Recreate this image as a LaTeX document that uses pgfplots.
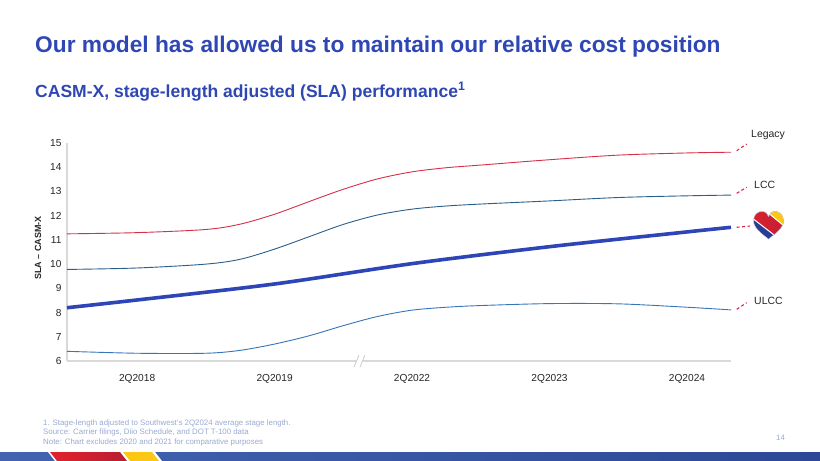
\documentclass[border=0pt]{standalone}
\usepackage{fontspec}
\setmainfont{Liberation Sans}
\usepackage{pgfplots}
\pgfplotsset{compat=1.18}
\definecolor{titleblue}{RGB}{47,71,181}
\definecolor{legacyc}{RGB}{214,48,72}
\definecolor{lccc}{RGB}{42,95,140}
\definecolor{swc}{RGB}{46,69,184}
\definecolor{ulccc}{RGB}{55,117,185}
\definecolor{leader}{RGB}{224,34,74}
\definecolor{footc}{RGB}{155,170,212}
\definecolor{bandL}{RGB}{66,100,176}
\definecolor{bandR}{RGB}{44,72,150}
\definecolor{swred}{RGB}{226,35,44}
\definecolor{swred2}{RGB}{184,30,52}
\definecolor{swyellow}{RGB}{252,200,20}
\definecolor{swblue}{RGB}{40,62,150}
\begin{document}
\begin{tikzpicture}
\useasboundingbox (0,0) rectangle (820bp,-461bp);
\fill[white] (0,0) rectangle (820bp,-461bp);
\node[anchor=base west, inner sep=0, text=titleblue, font=\fontsize{22.8}{26}\selectfont\bfseries] at (35bp,-52bp) {Our model has allowed us to maintain our relative cost position};
\node[anchor=base west, inner sep=0, text=titleblue, font=\fontsize{17.6}{20}\selectfont\bfseries] at (35bp,-97bp) {CASM-X, stage-length adjusted (SLA) performance\textsuperscript{1}};
\begin{axis}[at={(67bp,-361bp)}, anchor=south west, scale only axis,
  width=664bp, height=218bp,
  xmin=-0.51, xmax=4.32, ymin=6, ymax=15,
  axis x line*=bottom, axis y line*=left,
  axis line style={-, draw=black!15, line width=1.3bp},
  xtick={0,1,2,3,4}, xticklabels={2Q2018,2Q2019,2Q2022,2Q2023,2Q2024},
  ytick={6,7,...,15}, major tick length=0pt,
  tick label style={font=\fontsize{10.2}{12}\selectfont, text=black!85},
  /pgf/number format/assume math mode=true,
  xticklabel style={yshift=-10bp}, yticklabel style={xshift=-2bp},
  clip=false]
\addplot[legacyc, line width=0.9bp, smooth] coordinates {
(-0.51,11.25) (0,11.30) (0.5,11.43) (0.75,11.65) (1,12.06) (1.25,12.58) (1.5,13.09) (1.75,13.52) (2,13.81) (2.25,13.98) (2.5,14.09) (3,14.31) (3.5,14.50) (4,14.59) (4.32,14.62)};
\addplot[lccc, line width=0.9bp, smooth] coordinates {
(-0.51,9.78) (0,9.84) (0.5,10.0) (0.75,10.2) (1,10.62) (1.25,11.13) (1.5,11.64) (1.75,12.03) (2,12.27) (2.25,12.40) (2.5,12.48) (3,12.61) (3.5,12.75) (4,12.82) (4.32,12.85)};
\addplot[swc, line width=3.6bp, smooth] coordinates {
(-0.51,8.20) (0,8.52) (1,9.18) (2,10.02) (3,10.72) (4,11.33) (4.32,11.52)};
\addplot[ulccc, line width=0.9bp, smooth] coordinates {
(-0.51,6.40) (0,6.32) (0.5,6.32) (0.75,6.44) (1,6.70) (1.25,7.04) (1.5,7.46) (1.75,7.84) (2,8.10) (2.25,8.22) (2.5,8.29) (3,8.37) (3.5,8.36) (4,8.22) (4.32,8.11)};
\end{axis}
% axis break
\fill[white] (355bp,-357bp) -- (361bp,-357bp) -- (365bp,-366bp) -- (359bp,-366bp) -- cycle;
\draw[black!20, line width=0.8bp] (354bp,-367bp) -- (359bp,-355bp);
\draw[black!20, line width=0.8bp] (360bp,-367bp) -- (365bp,-355bp);
% y label
\node[rotate=90, font=\fontsize{9}{11}\selectfont\bfseries, text=black!85] at (38bp,-248bp) {SLA -- CASM-X};
% leaders
\draw[leader, line width=1.1bp, dash pattern=on 3bp off 2.5bp] (736.7bp,-150.7bp) -- (746.7bp,-144bp);
\draw[leader, line width=1.1bp, dash pattern=on 3bp off 2.5bp] (736.7bp,-193.3bp) -- (746.7bp,-187.3bp);
\draw[leader, line width=1.1bp, dash pattern=on 3bp off 2.5bp] (736.7bp,-227.3bp) -- (750bp,-226bp);
\draw[leader, line width=1.1bp, dash pattern=on 3bp off 2.5bp] (736.7bp,-309.3bp) -- (746.7bp,-302.7bp);
\node[anchor=west, inner sep=0, font=\fontsize{10.5}{12}\selectfont, text=black!85] at (751bp,-135bp) {Legacy};
\node[anchor=west, inner sep=0, font=\fontsize{10.5}{12}\selectfont, text=black!85] at (754bp,-185bp) {LCC};
\node[anchor=west, inner sep=0, font=\fontsize{10.5}{12}\selectfont, text=black!85] at (754bp,-300.5bp) {ULCC};
% heart logo
\begin{scope}[shift={(768.5bp,-225bp)}, x=15bp, y=14.2bp]
\def\heart{(0,-1) .. controls (-0.25,-0.75) and (-1,-0.3) .. (-1,0.3) .. controls (-1,0.75) and (-0.7,0.95) .. (-0.45,0.95) .. controls (-0.2,0.95) and (-0.05,0.8) .. (0,0.6) .. controls (0.05,0.8) and (0.2,0.95) .. (0.45,0.95) .. controls (0.7,0.95) and (1,0.75) .. (1,0.3) .. controls (1,-0.3) and (0.25,-0.75) .. (0,-1) -- cycle}
\begin{scope}
\clip \heart;
\fill[swblue] (-2,-2) rectangle (2,2);
\shade[left color=swred, right color=swred2] (-2,1.23) -- (2,-2.03) -- (2,3.2) -- (-2,3.2) -- cycle;
\fill[swyellow] (-2,2.58) -- (2,-0.91) -- (2,3.2) -- cycle;
\draw[white, line width=1bp] (-2,1.23) -- (2,-2.03);
\draw[white, line width=1bp] (-2,2.58) -- (2,-0.91);
\end{scope}
\draw[black!15, line width=0.4bp] \heart;
\end{scope}
% footnotes
\node[anchor=west, inner sep=0, font=\fontsize{7.9}{9}\selectfont, text=footc] at (43bp,-423bp) {1. Stage-length adjusted to Southwest's 2Q2024 average stage length.};
\node[anchor=west, inner sep=0, font=\fontsize{7.9}{9}\selectfont, text=footc] at (43bp,-432.5bp) {Source: Carrier filings, Diio Schedule, and DOT T-100 data};
\node[anchor=west, inner sep=0, font=\fontsize{7.9}{9}\selectfont, text=footc] at (43bp,-442bp) {Note: Chart excludes 2020 and 2021 for comparative purposes};
\node[anchor=west, inner sep=0, font=\fontsize{7.9}{9}\selectfont, text=footc] at (776bp,-438bp) {14};
% bottom band
\shade[left color=bandL, right color=bandR] (0,-452bp) rectangle (820bp,-461bp);
\fill[white] (48bp,-452bp) -- (124bp,-452bp) -- (131bp,-461bp) -- (55bp,-461bp) -- cycle;
\fill[white] (121bp,-452bp) -- (155bp,-452bp) -- (162bp,-461bp) -- (128bp,-461bp) -- cycle;
\shade[left color=swred, right color=swred2] (50bp,-452bp) -- (120bp,-452bp) -- (127bp,-461bp) -- (57bp,-461bp) -- cycle;
\fill[swyellow] (123bp,-452bp) -- (152bp,-452bp) -- (159bp,-461bp) -- (130bp,-461bp) -- cycle;
\end{tikzpicture}
\end{document}
